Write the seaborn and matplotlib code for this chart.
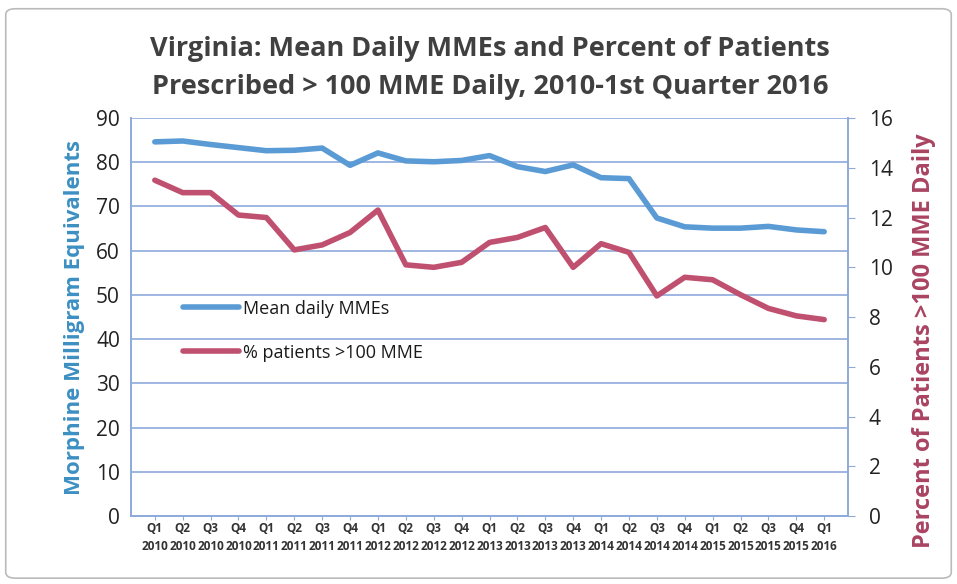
import pandas as pd
import numpy as np
import matplotlib.pyplot as plt
import seaborn as sns
from matplotlib.patches import FancyBboxPatch

quarters = ['Q1', 'Q2', 'Q3', 'Q4'] * 6 + ['Q1']
years = [str(y) for y in range(2010, 2016) for _ in range(4)] + ['2016']
tick_labels = [f"{q}\n{y}" for q, y in zip(quarters, years)]

mean_mme = [84.6, 84.8, 84.0, 83.3, 82.6, 82.7, 83.2, 79.3, 82.1, 80.3, 80.1, 80.4,
            81.5, 79.0, 77.9, 79.4, 76.5, 76.3, 67.4, 65.4, 65.1, 65.1, 65.5, 64.7, 64.3]
pct_over_100 = [13.5, 13.0, 13.0, 12.1, 12.0, 10.7, 10.9, 11.4, 12.3, 10.1, 10.0, 10.2,
                11.0, 11.2, 11.6, 10.0, 10.95, 10.6, 8.85, 9.6, 9.5, 8.9, 8.35, 8.05, 7.9]

df = pd.DataFrame({'idx': np.arange(len(tick_labels)), 'mme': mean_mme, 'pct': pct_over_100})

sns.set_style('white')
plt.rcParams['font.family'] = ['Open Sans', 'DejaVu Sans']

blue = '#5b9bd5'
red = '#c0506f'
grid_c = '#8eaadb'
blue_lab = '#3d8fc2'
red_lab = '#a94462'

fig = plt.figure(figsize=(9.57, 5.84), dpi=100)
ax = fig.add_axes([0.137, 0.116, 0.749, 0.682])
ax2 = ax.twinx()

sns.lineplot(data=df, x='idx', y='mme', ax=ax, color=blue, linewidth=4, label='Mean daily MMEs', legend=False)
sns.lineplot(data=df, x='idx', y='pct', ax=ax2, color=red, linewidth=4, label='% patients >100 MME', legend=False)

ax.set_ylim(0, 90)
ax.set_yticks(range(0, 91, 10))
ax2.set_ylim(0, 16)
ax2.set_yticks(range(0, 17, 2))
ax.set_xlim(-0.85, len(tick_labels) - 0.15)
ax.set_xticks(df['idx'])
ax.set_xticklabels(tick_labels, fontsize=8.5, fontweight='bold', color='#333333', linespacing=1.55)

ax.grid(axis='y', color=grid_c, linewidth=1.2)
ax.set_axisbelow(True)
for a in (ax, ax2):
    for s in ['left', 'right', 'bottom']:
        a.spines[s].set_color(grid_c)
        a.spines[s].set_linewidth(1.2)
    a.spines['top'].set_visible(False)
ax.tick_params(axis='y', labelsize=15, colors='#222222', length=0, pad=8)
ax2.tick_params(axis='y', labelsize=15, colors='#222222', length=5, direction='out', color=grid_c, pad=10)
ax.tick_params(axis='x', length=3, direction='out', color=grid_c, bottom=True, pad=1)

ax.set_xlabel('')
ax.set_ylabel('Morphine Milligram Equivalents', fontsize=16, fontweight='bold', color=blue_lab, labelpad=8)
ax2.set_ylabel('Percent of Patients >100 MME Daily', fontsize=17, fontweight='bold', color=red_lab)
ax2.yaxis.set_label_coords(1.09, 0.44)

fig.suptitle('Virginia: Mean Daily MMEs and Percent of Patients\nPrescribed > 100 MME Daily, 2010-1st Quarter 2016',
             x=0.512, y=0.938, fontsize=19.5, fontweight='bold', color='#404040', linespacing=1.6)

h1, l1 = ax.get_legend_handles_labels()
h2, l2 = ax2.get_legend_handles_labels()
ax.legend(h1 + h2, l1 + l2, loc='upper left', bbox_to_anchor=(0.05, 0.585), frameon=False,
          fontsize=13, labelspacing=1.45, handlelength=3.1, handletextpad=0.2,
          labelcolor='#1a1a1a')

fig.patches.append(FancyBboxPatch((0.006, 0.01), 0.988, 0.975, boxstyle='round,pad=0,rounding_size=0.01',
                                  transform=fig.transFigure, fill=False, edgecolor='#bbbbbb', linewidth=1.2))

fig.savefig('out.png', dpi=100)
